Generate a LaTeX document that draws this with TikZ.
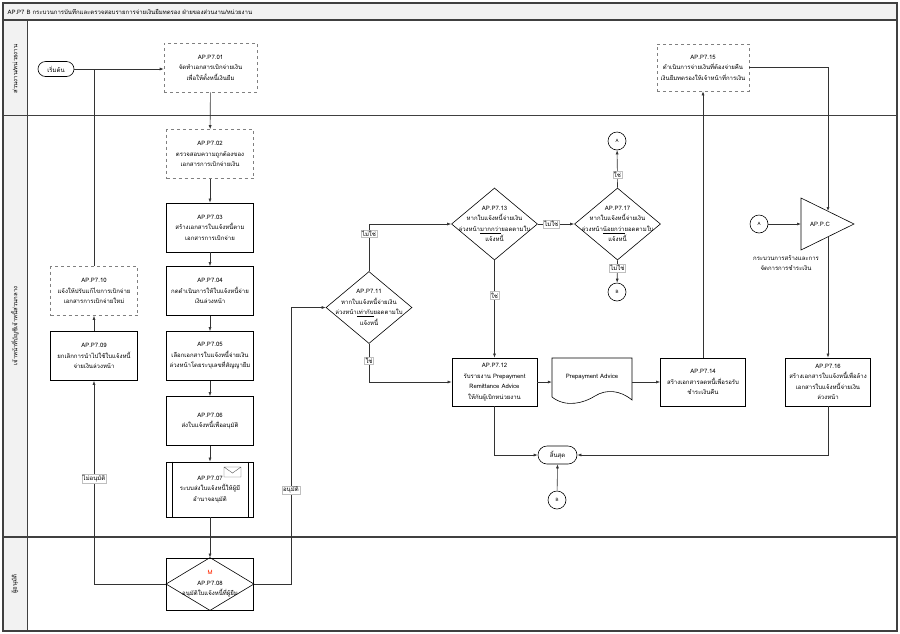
\documentclass[tikz,border=0pt]{standalone}
\usepackage{fontspec}
\setmainfont{Loma}[Script=Thai]
\usetikzlibrary{positioning,shapes.geometric,shapes.misc,arrows.meta}
\definecolor{marco}{HTML}{404040}
\definecolor{fondo}{HTML}{F2F2F2}
\definecolor{linea}{HTML}{333333}
\begin{document}
\begin{tikzpicture}[x=1pt,y=-1pt,
  font=\fontsize{6}{10.5}\selectfont,
  >={Latex[length=4pt,width=3pt]},
  tarea/.style={draw, rectangle, minimum width=87pt, minimum height=49pt, align=center, line width=0.8pt, inner sep=1pt},
  manual/.style={tarea, dashed, draw=gray, line width=0.6pt},
  decision/.style={draw, diamond, minimum width=86pt, minimum height=72pt, inner sep=0pt, line width=0.6pt},
  conector/.style={draw, circle, minimum size=18pt, inner sep=0pt, line width=0.6pt, font=\fontsize{4.5}{5}\selectfont},
  terminal/.style={draw, rounded rectangle, minimum width=38pt, minimum height=15pt, inner sep=1pt, line width=0.6pt},
  etiqueta/.style={fill=white, draw=gray!50, inner sep=1pt, line width=0.3pt},
  flecha/.style={->, draw=linea, line width=0.6pt}]
  \useasboundingbox (0,0) rectangle (900,633);

  % Carriles
  \fill[fondo] (3,3) rectangle (897,20);
  \fill[fondo] (3,20) rectangle (27,631);
  \draw[marco, line width=1.2pt] (3,20) -- (897,20);
  \draw[marco, line width=0.8pt] (27,20) -- (27,631);
  \draw[marco, line width=0.8pt] (3,115) -- (897,115);
  \draw[marco, line width=1.5pt] (3,537) -- (897,537);
  \draw[marco, line width=1.5pt] (3,3) rectangle (897,631);
  \node[anchor=west] (titulo) at (4,12) {AP.P7 B กระบวนการบันทึกและตรวจสอบรายการจ่ายเงินยืมทดรอง ฝ่ายของส่วนงาน/หน่วยงาน};
  \node[rotate=90] (carril1) at (15,69) {ส่วนงาน/หน่วยงาน};
  \node[rotate=90] (carril2) at (15,326) {เจ้าหน้าที่บัญชีเจ้าหนี้ส่วนกลาง};
  \node[rotate=90] (carril3) at (15,584) {ผู้อนุมัติ};

  % Nodos
  \node[terminal] (inicio) at (56,69) {เริ่มต้น};
  \node[manual, minimum width=93pt] (n01) at (210.5,67.5) {AP.P7.01\\จัดทำเอกสารเบิกจ่ายเงิน\\เพื่อให้ตั้งหนี้เงินยืม};
  \node[manual] (n02) at (210,154) {AP.P7.02\\ตรวจสอบความถูกต้องของ\\เอกสารการเบิกจ่ายเงิน};
  \node[tarea] (n03) at (210,227.5) {AP.P7.03\\สร้างเอกสารใบแจ้งหนี้ตาม\\เอกสารการเบิกจ่าย};
  \node[tarea] (n04) at (210,291) {AP.P7.04\\กดดำเนินการให้ใบแจ้งหนี้จ่าย\\เงินล่วงหน้า};
  \node[tarea] (n05) at (210,356) {AP.P7.05\\เลือกเอกสารใบแจ้งหนี้จ่ายเงิน\\ล่วงหน้าโดยระบุเลขที่สัญญายืม};
  \node[tarea] (n06) at (210,421) {AP.P7.06\\ส่งใบแจ้งหนี้เพื่ออนุมัติ};
  \node[tarea, minimum height=55pt] (n07) at (210,489.5) {AP.P7.07\\ระบบส่งใบแจ้งหนี้ให้ผู้มี\\อำนาจอนุมัติ};
  \node[tarea, minimum height=52pt] (n08) at (210,584) {\textcolor{red!70!orange}{M}\\AP.P7.08\\อนุมัติใบแจ้งหนี้ที่ผู้ยืม};
  \node[manual] (n10) at (94,291) {AP.P7.10\\แจ้งให้ปรับแก้ไขการเบิกจ่าย\\เอกสารการเบิกจ่ายใหม่};
  \node[tarea] (n09) at (94,356) {AP.P7.09\\ยกเลิกการนำไปใช้ใบแจ้งหนี้\\จ่ายเงินล่วงหน้า};

  \node[decision, label={[align=center]center:AP.P7.11\\หากใบแจ้งหนี้จ่ายเงิน\\ล่วงหน้า\underline{เท่ากับ}ยอดตามใบ\\แจ้งหนี้}] (d11) at (369,307.5) {};
  \node[decision, label={[align=center]center:AP.P7.13\\หากใบแจ้งหนี้จ่ายเงิน\\ล่วงหน้า\underline{มากกว่า}ยอดตามใบ\\แจ้งหนี้}] (d13) at (494.5,224) {};
  \node[decision, label={[align=center]center:AP.P7.17\\หากใบแจ้งหนี้จ่ายเงิน\\ล่วงหน้า\underline{น้อยกว่า}ยอดตามใบ\\แจ้งหนี้}] (d17) at (617.5,224) {};
  \node[conector] (cA1) at (617,141) {A};
  \node[conector] (cB1) at (617,292) {B};

  \node[tarea, minimum width=85pt, minimum height=48pt] (n12) at (494.5,382) {AP.P7.12\\รับรายงาน Prepayment\\Remittance Advice\\ให้กับผู้เบิกหน่วยงาน};
  \node[minimum width=80pt, minimum height=44pt, label={[yshift=5pt]center:Prepayment Advice}] (doc) at (592,382) {};
  \node[tarea, minimum width=85pt, minimum height=48pt] (n14) at (703,382) {AP.P7.14\\สร้างเอกสารลดหนี้เพื่อรอรับ\\ชำระเงินคืน};
  \node[manual, minimum width=92pt, minimum height=47pt] (n15) at (703,67.5) {AP.P7.15\\ดำเนินการจ่ายเงินที่ต้องจ่ายคืน\\เงินยืมทดรองให้เจ้าหน้าที่การเงิน};
  \node[tarea, minimum width=85pt, minimum height=48pt] (n16) at (828,382) {AP.P7.16\\สร้างเอกสารใบแจ้งหนี้เพื่อล้าง\\เอกสารใบแจ้งหนี้จ่ายเงิน\\ล่วงหน้า};
  \node[terminal, minimum width=41pt, minimum height=18pt] (fin) at (557.5,455) {สิ้นสุด};
  \node[conector] (cB2) at (557,500) {B};
  \node[conector] (cA2) at (759,224) {A};
  \node (pc) at (820,224) {AP.P.C};
  \node[align=center] (pctexto) at (786,263) {กระบวนการสร้างและการ\\จัดการการชำระเงิน};
  \coordinate (pcizq) at (801,224);
  \coordinate (pcarriba) at (828,211);
  \coordinate (pcabajo) at (828,237);

  % Formas
  \draw[line width=0.6pt] (801,198) -- (854,224) -- (801,250) -- cycle;
  \draw[line width=0.6pt] (n08.north) -- (n08.east) -- (n08.south) -- (n08.west) -- cycle;
  \draw[line width=0.6pt] ([xshift=6pt]n07.north west) -- ([xshift=6pt]n07.south west);
  \draw[line width=0.6pt] ([xshift=-6pt]n07.north east) -- ([xshift=-6pt]n07.south east);
  \draw[line width=0.4pt, gray!70!black] (224,467) rectangle (241,477) (224,467) -- (232.5,473) -- (241,467);
  \draw[line width=0.6pt] (552,358) -- (632,358) -- (632,400)
    .. controls (620,390) and (606,389) .. (595,396)
    .. controls (584,403) and (566,408) .. (552,397) -- cycle;

  % Aristas
  \draw[flecha] (inicio.east) -- (inicio.east -| n01.west);
  \draw[draw=linea, line width=0.6pt] (n10.north) -- (n10.north |- inicio.east);
  \draw[flecha] (n09) -- (n10);
  \draw[flecha] (n01) -- (n02);
  \draw[flecha] (n02) -- (n03);
  \draw[flecha] (n03) -- (n04);
  \draw[flecha] (n04) -- (n05);
  \draw[flecha] (n05) -- (n06);
  \draw[flecha] (n06) -- (n07);
  \draw[flecha] (n07) -- (n08);
  \draw[flecha] (n08.west) -| (n09.south) node[etiqueta, pos=0.76] {ไม่อนุมัติ};
  \draw[flecha] (n08.east) -- ++(37,0) |- (d11.west) node[etiqueta, pos=0.17] {อนุมัติ};
  \draw[flecha] (d11.north) |- (d13.west) node[etiqueta, pos=0.4] {ไม่ใช่};
  \draw[flecha] (d11.south) |- (n12.west) node[etiqueta, pos=0.22] {ใช่};
  \draw[flecha] (d13.south) -- (n12.north) node[etiqueta, pos=0.36] {ใช่};
  \draw[flecha] (d13.east) -- (d17.west) node[etiqueta, pos=0.37] {ไม่ใช่};
  \draw[flecha] (d17.north) -- (cA1) node[etiqueta, pos=0.35] {ใช่};
  \draw[flecha] (d17.south) -- (cB1) node[etiqueta, pos=0.35] {ไม่ใช่};
  \draw[flecha] (n12.east) -- (doc.west);
  \draw[flecha] (doc.east) -- (n14.west);
  \draw[flecha] (n14.north) -- (n15.south);
  \draw[flecha] (n15.east) -| (pcarriba);
  \draw[flecha] (cA2) -- (pcizq);
  \draw[flecha] (pcabajo) -- (n16.north);
  \draw[flecha] (n16.south) |- (fin.east);
  \draw[flecha] (n12.south) |- (fin.west);
  \draw[flecha] (cB2) -- (fin.south);
\end{tikzpicture}
\end{document}
